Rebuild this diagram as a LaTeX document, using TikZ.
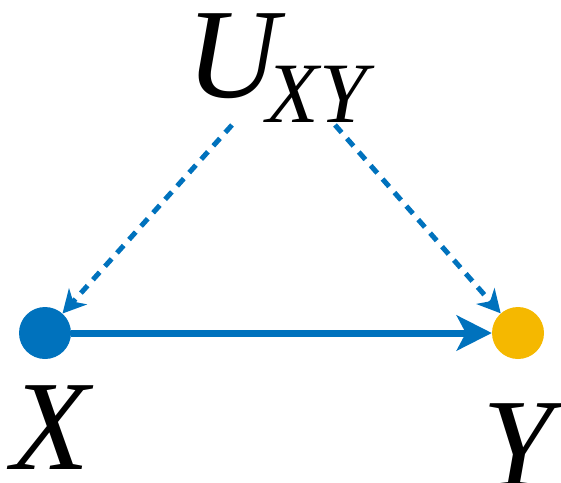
\documentclass[tikz,border=0pt]{standalone}
\usepackage{fontspec}
\setmainfont{Liberation Serif}
\usetikzlibrary{arrows.meta}
\definecolor{causeblue}{RGB}{0,114,189}
\definecolor{causeyellow}{RGB}{245,184,0}
\tikzset{
  dotnode/.style={circle,minimum size=52pt,inner sep=0pt},
  varlabel/.style={anchor=base,inner sep=0pt,font=\fontsize{128}{128}\selectfont\itshape},
  confound/.style={draw=causeblue,line width=5pt,dash pattern=on 10pt off 8pt,
    -{Stealth[length=23pt,width=24pt,inset=7pt]}},
  effect/.style={draw=causeblue,line width=7pt,
    -{Stealth[length=35pt,width=35pt,inset=9pt]}}
}
\begin{document}
\begin{tikzpicture}[x=1pt,y=-1pt]

% Canvas
\useasboundingbox (0,0) rectangle (561,482);

% Dots
\node[dotnode,fill=causeblue] (xdot) at (45,333) {};
\node[dotnode,fill=causeyellow] (ydot) at (518,333) {};

% Labels
\node[varlabel] (xlab) at (51,469) {X};
\node[varlabel] (ylab) at (518,487) {Y};
\node[varlabel,anchor=base west] (ulab) at (186,97)
  {U\kern-12pt\raisebox{-25pt}{\fontsize{86}{86}\selectfont XY}};

% Start points below U_XY
\coordinate (ua) at (232,125);
\coordinate (ub) at (335,125);

% Arrows
\draw[confound] (ua) -- (xdot);
\draw[confound] (ub) -- (ydot);
\draw[effect] (xdot) -- (ydot);

\end{tikzpicture}
\end{document}
